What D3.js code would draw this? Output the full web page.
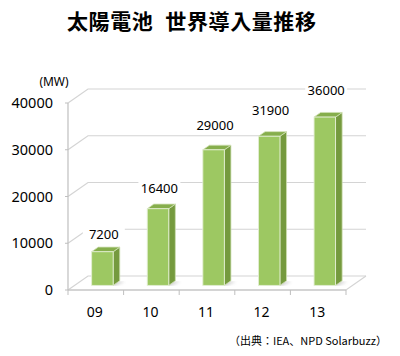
<!DOCTYPE html>
<html><head><meta charset="utf-8">
<script src="https://cdn.jsdelivr.net/npm/d3@7"></script>
<style>
html,body{margin:0;padding:0;background:#fff;}
svg{display:block;}
</style></head>
<body>
<script>
const titleParts = ["太陽電池", "世界導入量推移"];
const unitLabel = "(MW)";
const sourceNote = "（出典：IEA、NPD Solarbuzz）";
const categories = ["09", "10", "11", "12", "13"];
const values = [7200, 16400, 29000, 31900, 36000];
const yTicks = [0, 10000, 20000, 30000, 40000];

const W = 400, H = 356;
const svg = d3.select("body").append("svg").attr("width", W).attr("height", H);

const x = d3.scaleBand().domain(categories).range([68, 346]).padding(0);
const y = d3.scaleLinear().domain([0, 40000]).range([290, 103]);
const D = {dx: 20, dy: -14};
const barW = 21.5;
const f0 = 0.33, f1 = 0.66;

const defs = svg.append("defs");
defs.append("filter").attr("id", "blur").append("feGaussianBlur").attr("stdDeviation", 1.6);

const font = "'Noto Sans','Noto Sans CJK JP',sans-serif";

// title
const t = svg.append("text").attr("y", 29)
  .attr("font-family", "'Noto Sans CJK JP',sans-serif").attr("font-weight", "bold")
  .attr("font-size", 21).attr("letter-spacing", 0.6).attr("fill", "#000");
t.append("tspan").attr("x", 67).text(titleParts[0]);
t.append("tspan").attr("x", 165).text(" " + titleParts[1]).attr("dx", -5);

// back wall gridlines
const grid = svg.append("g");
yTicks.forEach(tk => {
  const yy = y(tk);
  grid.append("path")
    .attr("d", `M${x.range()[0]},${yy} L${x.range()[0] + D.dx},${yy + D.dy} L${x.range()[1] + D.dx},${yy + D.dy}`)
    .attr("fill", "none").attr("stroke", "#d4d4d4").attr("stroke-width", 1.2);
});
// floor
const x0 = x.range()[0], x1 = x.range()[1], y0 = y(0);
grid.append("path")
  .attr("d", `M${x0},${y0} L${x1},${y0} L${x1 + D.dx},${y0 + D.dy}`)
  .attr("fill", "none").attr("stroke", "#d4d4d4").attr("stroke-width", 1.2);

// axis lines
svg.append("line").attr("x1", x0).attr("x2", x0).attr("y1", y(40000)).attr("y2", y0)
  .attr("stroke", "#bfbfbf").attr("stroke-width", 1.2);
svg.append("line").attr("x1", x0).attr("x2", x1).attr("y1", y0).attr("y2", y0)
  .attr("stroke", "#bfbfbf").attr("stroke-width", 1.2);
// x ticks
const xb = categories.map(c => x(c)).concat([x1]);
xb.forEach(v => svg.append("line").attr("x1", v).attr("x2", v).attr("y1", y0).attr("y2", y0 + 5)
  .attr("stroke", "#bfbfbf").attr("stroke-width", 1));
// y ticks
yTicks.forEach(tk => svg.append("line").attr("x1", x0 - 3).attr("x2", x0).attr("y1", y(tk)).attr("y2", y(tk))
  .attr("stroke", "#bfbfbf").attr("stroke-width", 1));

// y tick labels
svg.append("g").selectAll("text").data(yTicks).join("text")
  .attr("x", 53).attr("y", d => y(d)).attr("dy", "0.36em").attr("text-anchor", "end")
  .attr("font-family", font).attr("font-size", 14.5).attr("fill", "#000").text(d => d);

svg.append("text").attr("x", 54).attr("y", 86).attr("text-anchor", "middle")
  .attr("font-family", font).attr("font-size", 12).attr("fill", "#000").text(unitLabel);

// x labels
svg.append("g").selectAll("text").data(categories).join("text")
  .attr("x", d => x(d) + x.bandwidth() / 2 - 1).attr("y", 312).attr("dy", "0.36em").attr("text-anchor", "middle")
  .attr("font-family", font).attr("font-size", 14).attr("fill", "#000").text(d => d);

// bars
const bars = svg.append("g");
categories.forEach((c, i) => {
  const v = values[i];
  const bx = x(c) + (x.bandwidth() - barW) / 2 + D.dx * f0;
  const by0 = y(0) + D.dy * f0;
  const ht = y(0) - y(v);
  const byT = by0 - ht;
  const ddx = D.dx * (f1 - f0), ddy = D.dy * (f1 - f0);
  // shadow
  bars.append("path")
    .attr("d", `M${bx + 2},${by0} L${bx + barW + 2},${by0} L${bx + barW + ddx + 5},${by0 + ddy + 1} L${bx + ddx + 5},${by0 + ddy + 1} Z`)
    .attr("fill", "#8a8a8a").attr("opacity", 0.45).attr("filter", "url(#blur)");
  // side
  bars.append("path")
    .attr("d", `M${bx + barW},${by0} L${bx + barW + ddx},${by0 + ddy} L${bx + barW + ddx},${byT + ddy} L${bx + barW},${byT} Z`)
    .attr("fill", "#759a3e").attr("stroke", "#cfe0b4").attr("stroke-width", 0.8);
  // top
  bars.append("path")
    .attr("d", `M${bx},${byT} L${bx + barW},${byT} L${bx + barW + ddx},${byT + ddy} L${bx + ddx},${byT + ddy} Z`)
    .attr("fill", "#86ae4c").attr("stroke", "#cfe0b4").attr("stroke-width", 0.8);
  // front
  bars.append("rect").attr("x", bx).attr("y", byT).attr("width", barW).attr("height", ht)
    .attr("fill", "#9dc862").attr("stroke", "#e3eed3").attr("stroke-width", 0.9);
});

// value labels with white background
const lbl = svg.append("g");
categories.forEach((c, i) => {
  const cx = x(c) + x.bandwidth() / 2 + 8;
  const cy = y(values[i]) - (20 + values[i] * 0.00033);
  lbl.append("rect").attr("x", cx - 21).attr("y", cy - 9).attr("width", 42).attr("height", 18).attr("fill", "#fff");
  lbl.append("text").attr("x", cx).attr("y", cy).attr("dy", "0.36em").attr("text-anchor", "middle")
    .attr("font-family", font).attr("font-size", 13).attr("fill", "#000").text(values[i]);
});

// source note
svg.append("text").attr("x", 387).attr("y", 341).attr("dy", "0.36em").attr("text-anchor", "end")
  .attr("font-family", "'Noto Sans CJK JP',sans-serif").attr("font-size", 11).attr("fill", "#000").text(sourceNote);
</script>
</body></html>
